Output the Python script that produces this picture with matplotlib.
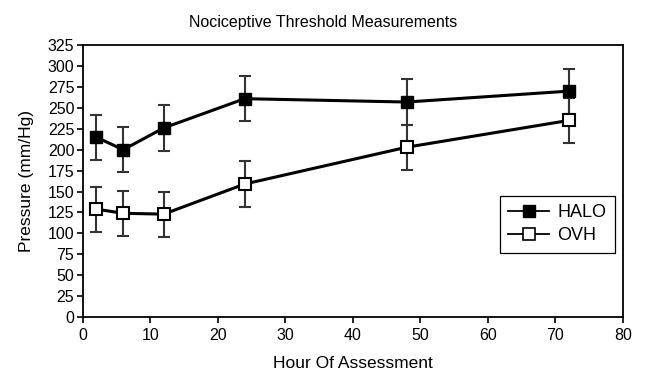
import matplotlib
matplotlib.use('Agg')
import matplotlib.pyplot as plt
from matplotlib.lines import Line2D

plt.rcParams['font.family'] = ['Liberation Sans', 'DejaVu Sans']

hours = [2, 6, 12, 24, 48, 72]
halo = [215, 200, 226, 261, 257, 270]
halo_err = [27, 27, 27, 27, 27, 27]
ovh = [129, 124, 123, 159, 203, 235]
ovh_err = [27, 27, 27, 27, 27, 27]

fig = plt.figure(figsize=(6.46, 3.73), dpi=100)
ax = fig.add_axes([0.128, 0.150, 0.836, 0.729])

ax.errorbar(hours, halo, yerr=halo_err, color='black', lw=2.2, marker='s', ms=9,
            mfc='black', mec='black', ecolor='#333333', elinewidth=1.5, capsize=4.5,
            capthick=1.5, zorder=3)
ax.errorbar(hours, ovh, yerr=ovh_err, color='black', lw=2.2, marker='s', ms=9,
            mfc='white', mec='black', mew=1.5, ecolor='#333333', elinewidth=1.5,
            capsize=4.5, capthick=1.5, zorder=3)

ax.set_xlim(0, 80)
ax.set_ylim(0, 325)
ax.set_xticks(range(0, 81, 10))
ax.set_yticks(range(0, 326, 25))
ax.tick_params(labelsize=11.5, direction='out', length=4, width=1.2)
ax.tick_params(axis='x', pad=4)
ax.tick_params(axis='y', pad=2)
for s in ax.spines.values():
    s.set_linewidth(1.3)

ax.set_xlabel('Hour Of Assessment', fontsize=12.5, labelpad=9)
ax.set_ylabel('Pressure (mm/Hg)', fontsize=12.5, labelpad=10)
fig.text(0.5, 0.94, 'Nociceptive Threshold Measurements', fontsize=11.5,
         ha='center', va='center')

handles = [Line2D([], [], color='black', lw=1.3, marker='s', ms=9, mfc='black', mec='black'),
           Line2D([], [], color='black', lw=1.3, marker='s', ms=9, mfc='white', mec='black', mew=1.2)]
leg = ax.legend(handles, ['HALO', 'OVH'], loc='upper left', bbox_to_anchor=(0.772, 0.445),
                fancybox=False, edgecolor='black', framealpha=1, fontsize=13,
                handlelength=2.3, borderpad=0.45, labelspacing=0.35, handletextpad=0.45,
                borderaxespad=0)
leg.get_frame().set_linewidth(0.9)

fig.savefig('out.png', dpi=100)
